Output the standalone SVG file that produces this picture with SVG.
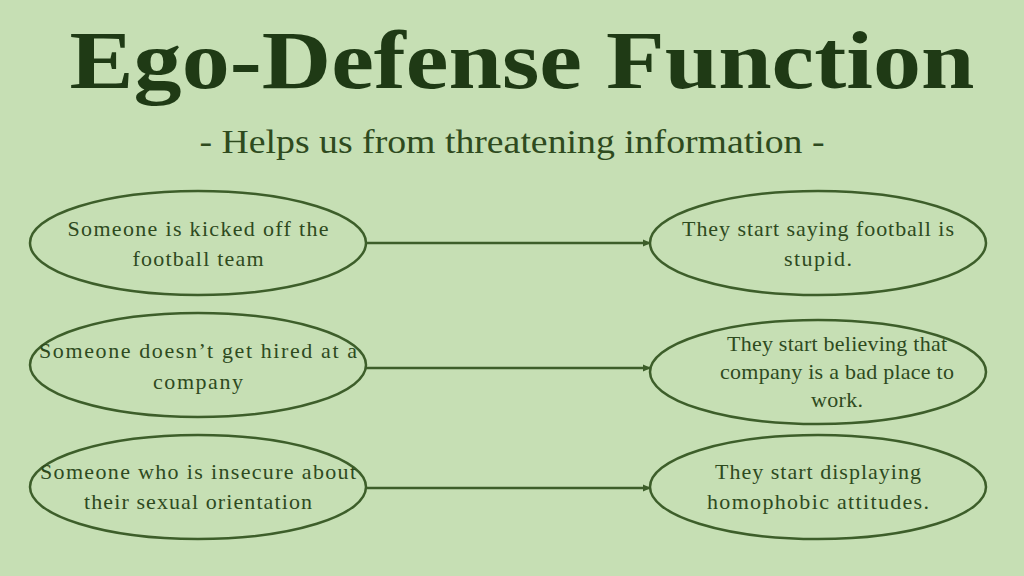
<svg xmlns="http://www.w3.org/2000/svg" width="1024" height="576" viewBox="0 0 1024 576">
<style>
.n{fill:none;stroke:#3d5e2a;stroke-width:2.5}
.t{font-family:"Liberation Serif",serif;font-size:22px;fill:#2e4a1e;text-anchor:middle}
.c{stroke:#3d5e2a;stroke-width:2.5;fill:none;marker-end:url(#a)}
</style>
<defs><marker id="a" markerWidth="8" markerHeight="8" refX="7" refY="4" orient="auto" markerUnits="userSpaceOnUse"><path d="M0,0.5 L8,4 L0,7.5z" fill="#3d5e2a"/></marker></defs>
<rect width="1024" height="576" fill="#c6dfb4"/>
<text x="522" y="88" font-family="Liberation Serif,serif" font-weight="bold" font-size="82" fill="#1f3a15" text-anchor="middle" textLength="905" lengthAdjust="spacingAndGlyphs">Ego-Defense Function</text>
<text x="512" y="153" font-family="Liberation Serif,serif" font-size="34" fill="#2e4a1e" text-anchor="middle" textLength="625" lengthAdjust="spacingAndGlyphs">- Helps us from threatening information -</text>
<g id="l1"><ellipse class="n" cx="198" cy="243" rx="168" ry="52"/><text class="t" x="198" y="236" textLength="261">Someone is kicked off  the</text><text class="t" x="198" y="266" textLength="131">football team</text></g>
<g id="l2"><ellipse class="n" cx="198" cy="365" rx="168" ry="52"/><text class="t" x="198" y="358" textLength="318">Someone doesn’t get hired at a</text><text class="t" x="198" y="389" textLength="90">company</text></g>
<g id="l3"><ellipse class="n" cx="198" cy="487" rx="168" ry="52"/><text class="t" x="198" y="479" textLength="316">Someone who is insecure about</text><text class="t" x="198" y="509" textLength="228">their sexual orientation</text></g>
<g id="r1"><ellipse class="n" cx="818" cy="243" rx="168" ry="52"/><text class="t" x="818" y="236" textLength="272">They start saying football is</text><text class="t" x="818" y="266" textLength="68">stupid.</text></g>
<g id="r2"><ellipse class="n" cx="818" cy="372" rx="168" ry="52"/><text class="t" x="837" y="351" font-size="21" textLength="220">They start believing that</text><text class="t" x="837" y="379" font-size="21" textLength="234">company is a bad place to</text><text class="t" x="837" y="407" font-size="21" textLength="52">work.</text></g>
<g id="r3"><ellipse class="n" cx="818" cy="487" rx="168" ry="52"/><text class="t" x="818" y="479" textLength="206">They start displaying</text><text class="t" x="818" y="509" textLength="222">homophobic attitudes.</text></g>
<g id="connectors">
<line class="c" x1="366" y1="243" x2="650" y2="243"/>
<line class="c" x1="366" y1="368" x2="650" y2="368"/>
<line class="c" x1="366" y1="488" x2="650" y2="488"/>
</g>
</svg>
